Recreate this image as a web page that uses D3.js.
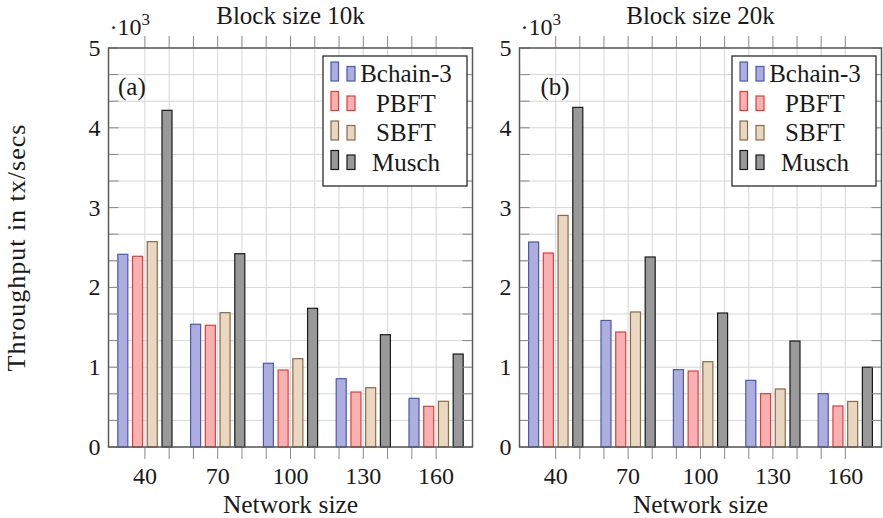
<!DOCTYPE html>
<html>
<head>
<meta charset="utf-8">
<script src="https://cdn.jsdelivr.net/npm/d3@7"></script>
<style>
  body { margin: 0; background: #fff; }
  svg { display: block; }
  svg text { font-family: "Liberation Serif", "DejaVu Serif", serif; fill: #1a1a1a; }
</style>
</head>
<body>
<div class="chart-div"></div>
<script>
// network sizes on the x axis
var networkSizes = [40, 70, 100, 130, 160];
var seriesNames = ["Bchain-3", "PBFT", "SBFT", "Musch"];
var yTicks = [0, 1000, 2000, 3000, 4000, 5000];

// block size 10k, throughput in tx/sec
var bchain10k = [2415, 1538, 1049, 856, 610];
var pbft10k   = [2390, 1525, 965, 689, 510];
var sbft10k   = [2573, 1683, 1107, 743, 573];
var musch10k  = [4219, 2422, 1738, 1407, 1165];

// block size 20k
var bchain20k = [2569, 1586, 969, 835, 668];
var pbft20k   = [2431, 1441, 952, 668, 514];
var sbft20k   = [2902, 1692, 1069, 727, 571];
var musch20k  = [4256, 2381, 1679, 1328, 1000];

var colors = [
	{ fill: "#adadde", stroke: "#4a58b8" },
	{ fill: "#f8b1b1", stroke: "#e43b3b" },
	{ fill: "#e9d7c1", stroke: "#8a6a45" },
	{ fill: "#999999", stroke: "#1a1a1a" }
];

var w = 883;
var h = 518;
var plotTop = 48, plotBottom = 447;

var svg = d3.select(".chart-div")
	.append("svg")
	.attr("width", w)
	.attr("height", h);

// y axis label, shared
svg.append("text")
	.attr("transform", "translate(25," + (plotTop + plotBottom) / 2 + ") rotate(-90)")
	.attr("text-anchor", "middle")
	.style("font-size", "26px")
	.style("letter-spacing", "1px")
	.text("Throughput in tx/secs");

function drawPanel(x0, x1, title, tag, tagX, data) {
	var x = d3.scaleLinear().domain([25, 175]).range([x0, x1]);
	var y = d3.scaleLinear().domain([0, 5000]).range([plotBottom, plotTop]);
	var inner = d3.scaleBand().domain(seriesNames)
		.range([-27.1, 27.1]).paddingInner(0.32).paddingOuter(0);

	var g = svg.append("g");

	var minorX = d3.range(40, 161, 10);
	var minorY = d3.range(0, 5001, 1000 / 3);

	// grid
	g.selectAll(".gx").data(minorX).enter().append("line")
		.attr("x1", function(d) { return x(d); })
		.attr("x2", function(d) { return x(d); })
		.attr("y1", plotTop).attr("y2", plotBottom)
		.attr("stroke", "#d6d6d6").attr("stroke-width", 1);
	g.selectAll(".gy").data(minorY).enter().append("line")
		.attr("x1", x0).attr("x2", x1)
		.attr("y1", function(d) { return y(d); })
		.attr("y2", function(d) { return y(d); })
		.attr("stroke", "#d6d6d6").attr("stroke-width", 1);

	// bars
	data.forEach(function(vals, s) {
		g.selectAll(".bar" + s).data(vals).enter().append("rect")
			.attr("x", function(d, i) { return x(networkSizes[i]) + inner(seriesNames[s]); })
			.attr("y", function(d) { return y(d); })
			.attr("width", inner.bandwidth())
			.attr("height", function(d) { return y(0) - y(d); })
			.attr("fill", colors[s].fill)
			.attr("stroke", colors[s].stroke)
			.attr("stroke-width", 1.2);
	});

	// ticks, x outside top and bottom
	g.selectAll(".tb").data(minorX).enter().append("line")
		.attr("x1", function(d) { return x(d); })
		.attr("x2", function(d) { return x(d); })
		.attr("y1", plotBottom).attr("y2", plotBottom + 12)
		.attr("stroke", "#888");
	g.selectAll(".tt").data(minorX).enter().append("line")
		.attr("x1", function(d) { return x(d); })
		.attr("x2", function(d) { return x(d); })
		.attr("y1", plotTop).attr("y2", plotTop - 12)
		.attr("stroke", "#888");
	// y ticks inside left and right
	g.selectAll(".tl").data(minorY).enter().append("line")
		.attr("x1", x0).attr("x2", x0 + 10)
		.attr("y1", function(d) { return y(d); })
		.attr("y2", function(d) { return y(d); })
		.attr("stroke", "#888");
	g.selectAll(".tr").data(minorY).enter().append("line")
		.attr("x1", x1).attr("x2", x1 - 10)
		.attr("y1", function(d) { return y(d); })
		.attr("y2", function(d) { return y(d); })
		.attr("stroke", "#888");

	// frame
	g.append("rect")
		.attr("x", x0).attr("y", plotTop)
		.attr("width", x1 - x0).attr("height", plotBottom - plotTop)
		.attr("fill", "none").attr("stroke", "#5a5a5a").attr("stroke-width", 1.5);

	// tick labels
	g.selectAll(".xl").data(networkSizes).enter().append("text")
		.attr("x", function(d) { return x(d); })
		.attr("y", 484)
		.attr("text-anchor", "middle")
		.style("font-size", "24px")
		.text(function(d) { return d; });
	g.selectAll(".yl").data(yTicks).enter().append("text")
		.attr("x", x0 - 8)
		.attr("y", function(d) { return y(d) + 8; })
		.attr("text-anchor", "end")
		.style("font-size", "24px")
		.text(function(d) { return d / 1000; });

	// scale factor
	var sf = g.append("text").attr("x", x0 + 1).attr("y", 35).style("font-size", "24px");
	sf.append("tspan").text("\u00b710");
	sf.append("tspan").attr("dy", -10).style("font-size", "17px").text("3");

	g.append("text")
		.attr("x", (x0 + x1) / 2).attr("y", 24)
		.attr("text-anchor", "middle")
		.style("font-size", "25px")
		.text(title);
	g.append("text")
		.attr("x", (x0 + x1) / 2).attr("y", 513)
		.attr("text-anchor", "middle")
		.style("font-size", "25.5px")
		.text("Network size");
	g.append("text")
		.attr("x", x0 + tagX).attr("y", 95)
		.style("font-size", "25px")
		.text(tag);

	// legend
	var lw = 144, lh = 130;
	var lx = x1 - 5.5 - lw, ly = 56;
	var leg = g.append("g").attr("transform", "translate(" + lx + "," + ly + ")");
	leg.append("rect").attr("width", lw).attr("height", lh)
		.attr("fill", "#fff").attr("stroke", "#1a1a1a").attr("stroke-width", 1.2);
	seriesNames.forEach(function(name, s) {
		var cy = 18 + s * 29.5;
		leg.append("rect").attr("x", 8).attr("y", cy - 12).attr("width", 7.5).attr("height", 19)
			.attr("fill", colors[s].fill).attr("stroke", colors[s].stroke).attr("stroke-width", 1.2);
		leg.append("rect").attr("x", 24).attr("y", cy - 7.5).attr("width", 8).attr("height", 14.5)
			.attr("fill", colors[s].fill).attr("stroke", colors[s].stroke).attr("stroke-width", 1.2);
		leg.append("text").attr("x", 83).attr("y", cy + 8)
			.attr("text-anchor", "middle")
			.style("font-size", "25px")
			.text(name);
	});
}

drawPanel(108.5, 472.5, "Block size 10k", "(a)", 9.5, [bchain10k, pbft10k, sbft10k, musch10k]);
drawPanel(519.5, 881.5, "Block size 20k", "(b)", 21, [bchain20k, pbft20k, sbft20k, musch20k]);
</script>
</body>
</html>
